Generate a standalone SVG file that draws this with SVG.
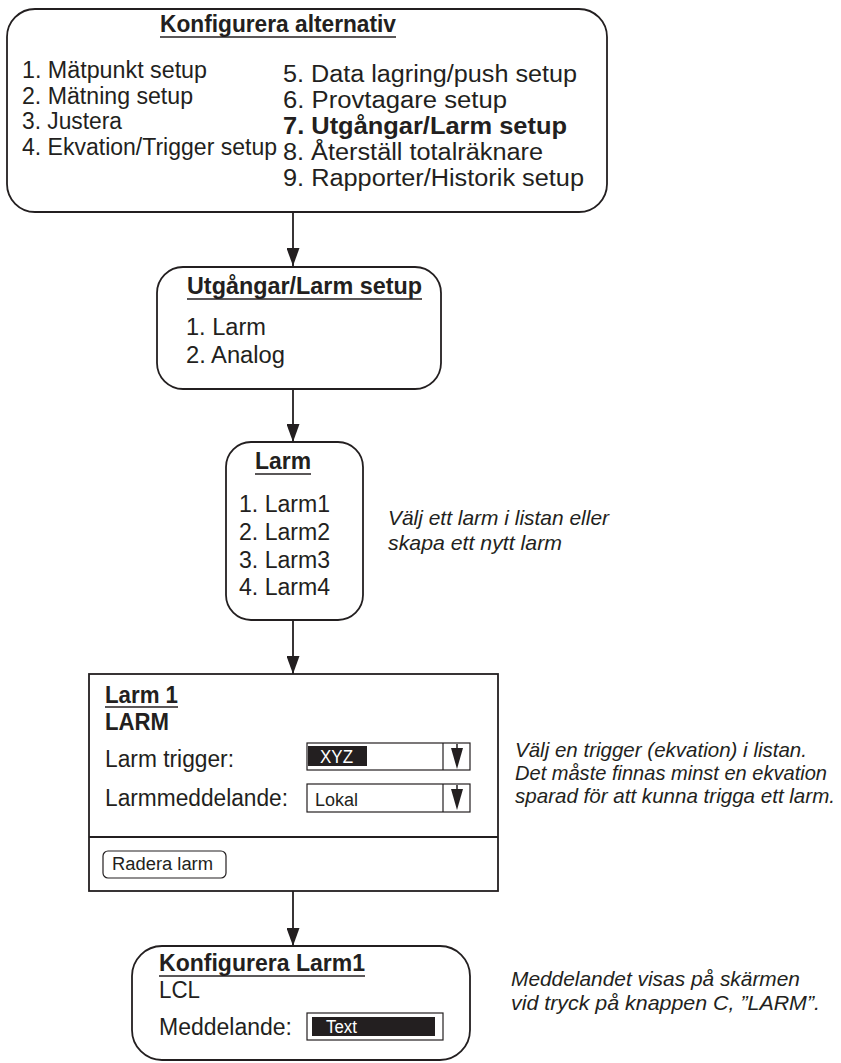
<svg xmlns="http://www.w3.org/2000/svg" width="841" height="1063" viewBox="0 0 841 1063">
<style>
.box{fill:#fff;stroke:#231f20;stroke-width:1.8}
.t{font-family:"Liberation Sans",Arial,sans-serif;font-size:23px;fill:#231f20}
.b{font-weight:bold}
.s{font-size:18px}
.i{font-style:italic;font-size:21px}
.w{fill:#fff}
.ul{stroke:#231f20;stroke-width:1.5}
.con{stroke:#231f20;stroke-width:1.8;fill:none}
.thin{fill:#fff;stroke:#231f20;stroke-width:1.2}
</style>
<defs>
<marker id="ah" markerUnits="userSpaceOnUse" markerWidth="18" markerHeight="13" refX="18" refY="6.5" orient="auto">
<path d="M0,0 L18,6.5 L0,13 z" fill="#231f20"/>
</marker>
</defs>
<rect width="841" height="1063" fill="#fff"/>
<g id="connectors">
<line class="con" x1="293" y1="212" x2="293" y2="266" marker-end="url(#ah)"/>
<line class="con" x1="293" y1="389" x2="293" y2="442" marker-end="url(#ah)"/>
<line class="con" x1="293" y1="620" x2="293" y2="674" marker-end="url(#ah)"/>
<line class="con" x1="293" y1="891" x2="293" y2="946" marker-end="url(#ah)"/>
</g>
<g id="node-konfigurera">
<rect class="box" x="7" y="9" width="600" height="203" rx="28"/>
<text class="t b" x="160" y="32" textLength="236" lengthAdjust="spacingAndGlyphs">Konfigurera alternativ</text>
<line class="ul" x1="160" y1="37" x2="396" y2="37"/>
<text class="t" x="22" y="78" textLength="185" lengthAdjust="spacingAndGlyphs">1. Mätpunkt setup</text>
<text class="t" x="22" y="104" textLength="171" lengthAdjust="spacingAndGlyphs">2. Mätning setup</text>
<text class="t" x="22" y="129" textLength="100" lengthAdjust="spacingAndGlyphs">3. Justera</text>
<text class="t" x="22" y="155" textLength="255" lengthAdjust="spacingAndGlyphs">4. Ekvation/Trigger setup</text>
<text class="t" x="283" y="82" textLength="294" lengthAdjust="spacingAndGlyphs">5. Data lagring/push setup</text>
<text class="t" x="283" y="108" textLength="224" lengthAdjust="spacingAndGlyphs">6. Provtagare setup</text>
<text class="t b" x="283" y="134" textLength="284" lengthAdjust="spacingAndGlyphs">7. Utgångar/Larm setup</text>
<text class="t" x="283" y="160" textLength="260" lengthAdjust="spacingAndGlyphs">8. Återställ totalräknare</text>
<text class="t" x="283" y="186" textLength="301" lengthAdjust="spacingAndGlyphs">9. Rapporter/Historik setup</text>
</g>
<g id="node-utgangar">
<rect class="box" x="157" y="267" width="284" height="122" rx="26"/>
<text class="t b" x="187" y="294" textLength="235" lengthAdjust="spacingAndGlyphs">Utgångar/Larm setup</text>
<line class="ul" x1="187" y1="299" x2="422" y2="299"/>
<text class="t" x="186" y="335" textLength="80" lengthAdjust="spacingAndGlyphs">1. Larm</text>
<text class="t" x="186" y="363" textLength="99" lengthAdjust="spacingAndGlyphs">2. Analog</text>
</g>
<g id="node-larm">
<rect class="box" x="226" y="442" width="137" height="178" rx="25"/>
<text class="t b" x="255" y="469" textLength="56" lengthAdjust="spacingAndGlyphs">Larm</text>
<line class="ul" x1="255" y1="474" x2="311" y2="474"/>
<text class="t" x="239" y="512" textLength="91" lengthAdjust="spacingAndGlyphs">1. Larm1</text>
<text class="t" x="239" y="540" textLength="91" lengthAdjust="spacingAndGlyphs">2. Larm2</text>
<text class="t" x="239" y="568" textLength="91" lengthAdjust="spacingAndGlyphs">3. Larm3</text>
<text class="t" x="239" y="595" textLength="91" lengthAdjust="spacingAndGlyphs">4. Larm4</text>
</g>
<g id="note-larm">
<text class="t i" x="388" y="525" textLength="221" lengthAdjust="spacingAndGlyphs">Välj ett larm i listan eller</text>
<text class="t i" x="388" y="550" textLength="174" lengthAdjust="spacingAndGlyphs">skapa ett nytt larm</text>
</g>
<g id="node-larm1">
<rect class="box" x="89" y="674" width="409" height="217"/>
<line class="con" x1="89" y1="837" x2="498" y2="837"/>
<text class="t b" x="105" y="703" textLength="73" lengthAdjust="spacingAndGlyphs">Larm 1</text>
<line class="ul" x1="105" y1="707" x2="178" y2="707"/>
<text class="t b" x="105" y="730" textLength="64" lengthAdjust="spacingAndGlyphs">LARM</text>
<text class="t" x="105" y="767" textLength="129" lengthAdjust="spacingAndGlyphs">Larm trigger:</text>
<text class="t" x="105" y="806" textLength="183" lengthAdjust="spacingAndGlyphs">Larmmeddelande:</text>
<rect class="thin" x="307" y="743" width="163" height="27"/>
<line class="thin" x1="443" y1="743" x2="443" y2="770"/>
<rect x="308" y="746" width="59" height="20" fill="#231f20"/>
<text class="t s w" x="320" y="763" textLength="33" lengthAdjust="spacingAndGlyphs">XYZ</text>
<line class="ul" x1="457" y1="744" x2="457" y2="760"/>
<path d="M451,748 L463,748 L457,769 z" fill="#231f20"/>
<rect class="thin" x="307" y="784" width="163" height="28"/>
<line class="thin" x1="443" y1="784" x2="443" y2="812"/>
<text class="t s" x="315" y="806" textLength="43" lengthAdjust="spacingAndGlyphs">Lokal</text>
<line class="ul" x1="457" y1="785" x2="457" y2="800"/>
<path d="M451,789 L463,789 L457,810 z" fill="#231f20"/>
<rect class="thin" x="103" y="851" width="123" height="27" rx="5"/>
<text class="t s" x="112" y="870" textLength="101" lengthAdjust="spacingAndGlyphs">Radera larm</text>
</g>
<g id="note-trigger">
<text class="t i" x="515" y="757" textLength="292" lengthAdjust="spacingAndGlyphs">Välj en trigger (ekvation) i listan.</text>
<text class="t i" x="515" y="780" textLength="312" lengthAdjust="spacingAndGlyphs">Det måste finnas minst en ekvation</text>
<text class="t i" x="515" y="803" textLength="320" lengthAdjust="spacingAndGlyphs">sparad för att kunna trigga ett larm.</text>
</g>
<g id="node-konfigurera-larm1">
<rect class="box" x="132" y="946" width="338" height="114" rx="30"/>
<text class="t b" x="159" y="971" textLength="206" lengthAdjust="spacingAndGlyphs">Konfigurera Larm1</text>
<line class="ul" x1="159" y1="976" x2="365" y2="976"/>
<text class="t" x="159" y="998" textLength="41" lengthAdjust="spacingAndGlyphs">LCL</text>
<text class="t" x="159" y="1035" textLength="133" lengthAdjust="spacingAndGlyphs">Meddelande:</text>
<rect class="thin" x="307" y="1013" width="136" height="27"/>
<rect x="312" y="1017" width="123" height="19" fill="#231f20"/>
<text class="t s w" x="326" y="1033" textLength="31" lengthAdjust="spacingAndGlyphs">Text</text>
</g>
<g id="note-meddelande">
<text class="t i" x="511" y="986" textLength="289" lengthAdjust="spacingAndGlyphs">Meddelandet visas på skärmen</text>
<text class="t i" x="511" y="1010" textLength="309" lengthAdjust="spacingAndGlyphs">vid tryck på knappen C, ”LARM”.</text>
</g>
</svg>
